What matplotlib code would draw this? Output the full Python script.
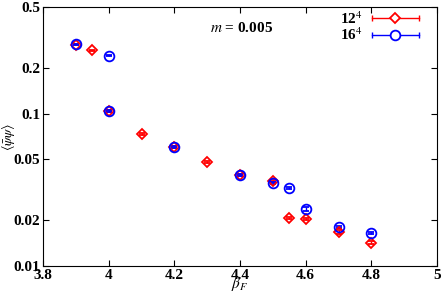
import matplotlib
matplotlib.use('Agg')
import matplotlib.pyplot as plt
from matplotlib.lines import Line2D
from matplotlib.legend_handler import HandlerLine2D, HandlerTuple

plt.rcParams['font.family'] = ['Liberation Serif', 'DejaVu Serif']
plt.rcParams['mathtext.fontset'] = 'stix'

# 12^4 lattice
beta12 = [3.9, 3.95, 4.0, 4.1, 4.2, 4.3, 4.4, 4.5, 4.55, 4.6, 4.7, 4.8]
pbp12 = [0.282, 0.261, 0.104, 0.0735, 0.060, 0.048, 0.0396, 0.0361, 0.0207, 0.0203, 0.0167, 0.0142]
err12 = [0.002, 0.002, 0.001, 0.0015, 0.001, 0.0008, 0.0006, 0.0006, 0.0004, 0.0004, 0.0004, 0.0003]

# 16^4 lattice
beta16 = [3.9, 4.0, 4.0, 4.2, 4.4, 4.5, 4.55, 4.6, 4.7, 4.8]
pbp16 = [0.285, 0.239, 0.104, 0.060, 0.0396, 0.0350, 0.0325, 0.0237, 0.0180, 0.0165]
err16 = [0.002, 0.002, 0.001, 0.0008, 0.0005, 0.0004, 0.0004, 0.0006, 0.0003, 0.0003]

fig = plt.figure(figsize=(4.42, 2.92), dpi=100)
ax = fig.add_axes([43/442, 26/292, 394/442, 259/292])

ax.errorbar(beta12, pbp12, yerr=err12, fmt='D', color='red', mfc='none',
            ms=5.5, mew=1.3, elinewidth=1, capsize=2)
ax.errorbar(beta16, pbp16, yerr=err16, fmt='o', color='blue', mfc='none',
            ms=7, mew=1.3, elinewidth=1, capsize=2)

ax.set_yscale('log')
ax.set_xlim(3.8, 5)
ax.set_ylim(0.01, 0.5)
yt = [0.01, 0.02, 0.05, 0.1, 0.2, 0.5]
ax.set_yticks(yt)
ax.set_yticklabels([str(v) for v in yt])
ax.minorticks_off()
xt = [3.8, 4, 4.2, 4.4, 4.6, 4.8, 5]
ax.set_xticks(xt)
ax.set_xticklabels(['3.8', '4', '4.2', '4.4', '4.6', '4.8', '5'])
ax.tick_params(direction='in', top=True, right=True, length=4, labelsize=11, pad=2)
for lab in ax.get_xticklabels() + ax.get_yticklabels():
    lab.set_fontweight('bold')

ax.set_xlabel(r'$\beta_F$', fontsize=11)
ax.xaxis.set_label_coords(0.5, -0.036)
ax.set_ylabel(r'$\langle\bar{\psi}\psi\rangle$', fontsize=10)
ax.yaxis.set_label_coords(-0.066, 0.5)
ax.text(0.505, 0.92, '$m$ = 0.005', transform=ax.transAxes, ha='center',
        va='center', fontsize=11, fontweight='bold')

# legend samples: horizontal bar with end caps plus marker
handles, hmap = [], {}
for col, mk, ms in [('red', 'D', 5.5), ('blue', 'o', 7)]:
    bar = Line2D([], [], color=col, lw=1, marker='|', ms=5, mew=1)
    pt = Line2D([], [], color=col, ls='none', marker=mk, mfc='white', ms=ms, mew=1.3)
    hmap[bar] = HandlerLine2D(numpoints=2, marker_pad=0)
    hmap[pt] = HandlerLine2D(numpoints=1)
    handles.append((bar, pt))
hmap[tuple] = HandlerTuple(ndivide=1)
leg = ax.legend(handles, ['12$^4$', '16$^4$'], handler_map=hmap, loc='upper right',
                bbox_to_anchor=(1 - 15/394, 1.0), borderaxespad=0, borderpad=0.2,
                frameon=False, markerfirst=False, fontsize=11, handlelength=3.1,
                labelspacing=0.0, handletextpad=0.6)
for t in leg.get_texts():
    t.set_fontweight('bold')

fig.savefig('out.png', dpi=100)
